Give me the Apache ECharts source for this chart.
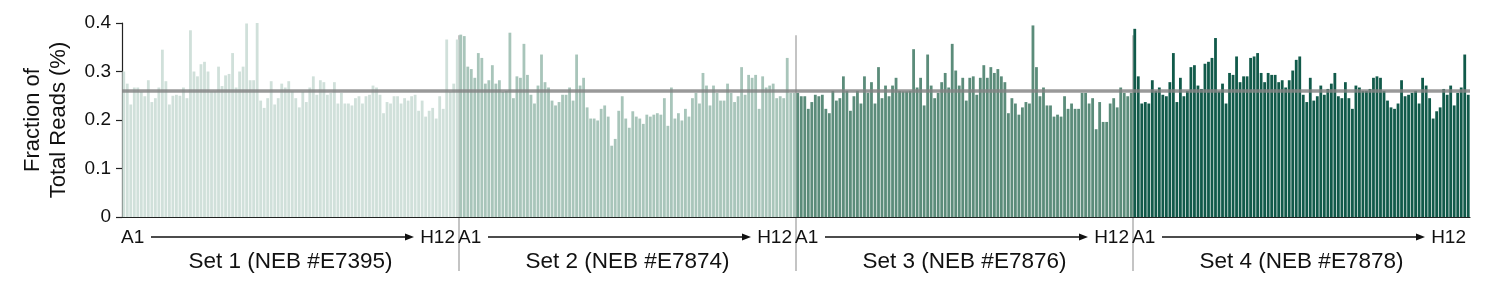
<!DOCTYPE html>
<html><head><meta charset="utf-8">
<script src="https://cdn.jsdelivr.net/npm/echarts@6/dist/echarts.min.js"></script>
<style>html,body{margin:0;padding:0;background:#fff}#c{width:1498px;height:288px}</style>
</head><body><div id="c"></div>
<script>
// ---- data ----
const plateRows = ['A','B','C','D','E','F','G','H'];
const plateCols = [1,2,3,4,5,6,7,8,9,10,11,12];
const setNames = ['Set 1 (NEB #E7395)','Set 2 (NEB #E7874)','Set 3 (NEB #E7876)','Set 4 (NEB #E7878)'];
const firstWell = 'A1';
const lastWell = 'H12';
const yTicks = [0, 0.1, 0.2, 0.3, 0.4];
const refValue = 0.263;

const set1 = [0.300,0.275,0.232,0.267,0.267,0.258,0.249,0.282,0.237,0.245,0.267,0.345,0.280,0.232,0.250,0.252,0.250,0.267,0.245,0.385,0.300,0.290,0.315,0.320,0.300,0.259,0.259,0.310,0.270,0.292,0.295,0.338,0.267,0.300,0.310,0.399,0.282,0.282,0.405,0.240,0.225,0.245,0.280,0.232,0.245,0.275,0.267,0.280,
  0.259,0.245,0.226,0.258,0.237,0.267,0.290,0.252,0.282,0.278,0.252,0.256,0.278,0.234,0.256,0.234,0.234,0.230,0.245,0.249,0.234,0.249,0.252,0.271,0.267,0.252,0.214,0.237,0.234,0.249,0.249,0.234,0.245,0.240,0.249,0.252,0.219,0.240,0.207,0.219,0.225,0.203,0.249,0.223,0.366,0.258,0.275,0.366];
const set2 = [0.376,0.373,0.310,0.305,0.287,0.338,0.328,0.275,0.282,0.313,0.275,0.282,0.258,0.260,0.380,0.245,0.290,0.287,0.357,0.293,0.252,0.234,0.271,0.335,0.278,0.267,0.240,0.230,0.237,0.252,0.252,0.267,0.240,0.335,0.271,0.287,0.226,0.203,0.203,0.199,0.223,0.230,0.207,0.147,0.161,0.219,0.249,0.203,
  0.184,0.218,0.207,0.203,0.192,0.211,0.207,0.211,0.214,0.211,0.245,0.188,0.267,0.203,0.214,0.199,0.223,0.207,0.245,0.256,0.234,0.297,0.271,0.230,0.271,0.256,0.240,0.240,0.275,0.256,0.237,0.249,0.309,0.252,0.293,0.287,0.293,0.223,0.290,0.267,0.271,0.275,0.245,0.249,0.245,0.328,0.256,0.256];
const set3 = [0.256,0.249,0.249,0.223,0.237,0.252,0.249,0.252,0.223,0.214,0.260,0.240,0.245,0.290,0.260,0.219,0.249,0.260,0.234,0.290,0.256,0.278,0.234,0.309,0.245,0.271,0.249,0.271,0.287,0.260,0.259,0.259,0.260,0.346,0.267,0.287,0.230,0.335,0.271,0.245,0.256,0.278,0.297,0.267,0.357,0.302,0.271,0.287,
  0.240,0.287,0.290,0.252,0.287,0.313,0.287,0.309,0.297,0.305,0.290,0.278,0.214,0.245,0.234,0.211,0.226,0.237,0.234,0.395,0.309,0.249,0.267,0.230,0.230,0.207,0.211,0.207,0.249,0.223,0.234,0.223,0.223,0.256,0.256,0.234,0.245,0.181,0.237,0.196,0.196,0.234,0.245,0.226,0.267,0.256,0.249,0.256];
const set4 = [0.388,0.290,0.234,0.237,0.234,0.282,0.260,0.267,0.252,0.249,0.278,0.338,0.237,0.287,0.249,0.260,0.309,0.313,0.271,0.264,0.316,0.320,0.328,0.369,0.259,0.275,0.234,0.297,0.293,0.331,0.278,0.290,0.290,0.328,0.331,0.338,0.297,0.278,0.297,0.293,0.293,0.278,0.282,0.267,0.282,0.302,0.324,0.331,
  0.252,0.237,0.287,0.240,0.249,0.271,0.252,0.264,0.275,0.297,0.249,0.245,0.278,0.245,0.223,0.271,0.267,0.260,0.260,0.264,0.287,0.290,0.287,0.260,0.240,0.226,0.223,0.234,0.282,0.249,0.252,0.256,0.260,0.234,0.287,0.271,0.245,0.203,0.218,0.226,0.264,0.252,0.271,0.230,0.256,0.267,0.335,0.252];

// ---- styles ----
const setColors = ['#d0e0da','#a8c5ba','#5b8c7a','#115a4a'];
const FONT = 'Liberation Sans, Arial, Helvetica, sans-serif';

const sets = [set1, set2, set3, set4];
const wells = [];
plateRows.forEach(r => plateCols.forEach(c => wells.push(r + c)));
const categories = [];
sets.forEach((s, si) => wells.forEach(w => categories.push('S' + (si + 1) + ' ' + w)));
const N = categories.length;

const series = sets.map((vals, si) => {
  const d = new Array(N).fill('-');
  vals.forEach((v, i) => { d[si * wells.length + i] = v; });
  const s = {
    type: 'bar', data: d, barGap: '-100%', barCategoryGap: '20%',
    itemStyle: { color: setColors[si] }, silent: true, animation: false
  };
  if (si === sets.length - 1) {
    s.markLine = {
      silent: true, symbol: 'none', animation: false,
      label: { show: false },
      lineStyle: { color: 'rgba(130,130,130,0.82)', width: 3.5, type: 'solid' },
      data: [{ yAxis: refValue }]
    };
  }
  return s;
});

const chart = echarts.init(document.getElementById('c'), null, { renderer: 'canvas' });
chart.setOption({
  backgroundColor: '#fff',
  animation: false,
  grid: { left: 122, right: 28, top: 23, bottom: 71, containLabel: false },
  xAxis: {
    type: 'category', data: categories,
    axisLine: { show: true, lineStyle: { color: '#222', width: 1.2 } },
    axisTick: { show: false }, axisLabel: { show: false }, splitLine: { show: false }
  },
  yAxis: {
    type: 'value', min: yTicks[0], max: yTicks[yTicks.length - 1], interval: 0.1,
    axisLine: { show: true, lineStyle: { color: '#222', width: 1.2 } },
    axisTick: { show: true, length: 6, lineStyle: { color: '#222', width: 1.2 } },
    axisLabel: { color: '#111', fontSize: 19, fontFamily: FONT, margin: 11,
      formatter: v => String(Math.round(v * 10) / 10) },
    splitLine: { show: false }
  },
  series: series
});

// ---- annotations positioned through the axes ----
const perSet = wells.length;
const c0 = chart.convertToPixel({ xAxisIndex: 0 }, 0);
const c1 = chart.convertToPixel({ xAxisIndex: 0 }, 1);
const bw = c1 - c0;
const yTop = chart.convertToPixel({ yAxisIndex: 0 }, 0.375);
const g = [];
g.push({ type: 'text', rotation: Math.PI / 2, x: 46, y: 120,
  style: { text: 'Fraction of\nTotal Reads (%)', fill: '#111', font: '22px ' + FONT,
    textAlign: 'center', textVerticalAlign: 'middle', lineHeight: 26 } });
const labY = 238, setY = 262;
for (let s = 0; s < sets.length; s++) {
  const xs = chart.convertToPixel({ xAxisIndex: 0 }, s * perSet) - bw / 2;
  const xe = chart.convertToPixel({ xAxisIndex: 0 }, (s + 1) * perSet - 1) + bw / 2;
  g.push({ type: 'text', x: xs - 1, y: labY,
    style: { text: firstWell, fill: '#111', font: '19px ' + FONT, textAlign: 'left', textVerticalAlign: 'middle' } });
  g.push({ type: 'text', x: xe - 4, y: labY,
    style: { text: lastWell, fill: '#111', font: '19px ' + FONT, textAlign: 'right', textVerticalAlign: 'middle' } });
  const a0 = xs + 29, a1 = xe - 45;
  g.push({ type: 'line', shape: { x1: a0, y1: labY - 1, x2: a1 - 6, y2: labY - 1 }, style: { stroke: '#111', lineWidth: 1.3 } });
  g.push({ type: 'polygon', shape: { points: [[a1, labY - 1], [a1 - 9, labY - 4.5], [a1 - 9, labY + 2.5]] }, style: { fill: '#111' } });
  g.push({ type: 'text', x: (xs + xe) / 2, y: setY,
    style: { text: setNames[s], fill: '#111', font: '22.5px ' + FONT, textAlign: 'center', textVerticalAlign: 'middle' } });
  if (s > 0) {
    g.push({ type: 'line', z: -1, shape: { x1: xs, y1: yTop, x2: xs, y2: 271 },
      style: { stroke: '#b0b0b0', lineWidth: 1.5 } });
  }
}
chart.setOption({ graphic: g });
</script>
</body></html>
